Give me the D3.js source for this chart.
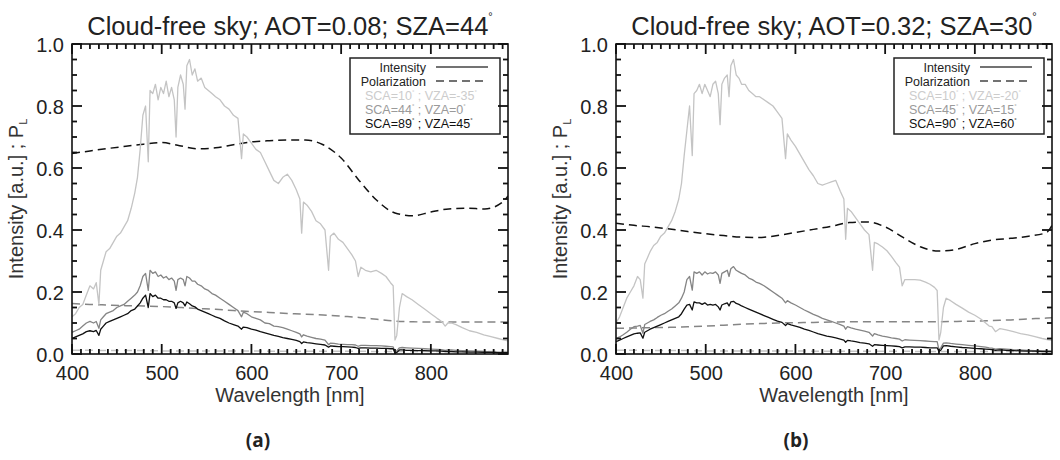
<!DOCTYPE html>
<html><head><meta charset="utf-8">
<script src="https://cdn.jsdelivr.net/npm/d3@7"></script>
<style>body{margin:0;background:#fff;} svg{display:block;font-family:"Liberation Sans",Arial,sans-serif;}</style>
</head><body><svg id="c" width="1060" height="460"></svg>
<script>
// ---------- data ----------
const wavelength = [
 400,404,408,412,416,420,424,427,430,432,
 435,438,442,446,450,454,458,462,466,470,
 473,476,479,482,485,487,490,493,496,499,
 502,505,508,511,514,516,518,521,524,526,
 528,531,534,537,540,544,548,552,556,560,
 565,570,575,580,585,589,591,595,600,605,
 610,615,620,625,630,635,640,645,650,654,
 656,658,662,667,672,677,682,686,688,692,
 697,702,707,712,716,719,722,727,733,739,
 745,750,755,758,760,762,765,768,773,779,
 786,793,800,807,812,816,819,823,828,835,
 843,851,859,867,875,882,886];

// Panel (a): AOT=0.08, SZA=44
const intensityA_sca10 = [
 .12,.13,.15,.16,.19,.22,.21,.23,.16,.27,
 .30,.33,.34,.36,.38,.39,.41,.43,.47,.52,
 .57,.66,.77,.80,.62,.85,.84,.87,.82,.86,
 .84,.88,.83,.86,.82,.70,.86,.90,.87,.79,
 .93,.95,.90,.92,.88,.89,.86,.85,.84,.83,
 .82,.80,.79,.77,.76,.63,.71,.70,.68,.66,
 .65,.62,.59,.56,.55,.57,.58,.56,.53,.50,
 .39,.49,.48,.46,.43,.42,.40,.27,.38,.39,
 .37,.36,.34,.32,.30,.25,.28,.27,.265,.27,
 .26,.25,.23,.22,.045,.06,.15,.195,.185,.175,
 .16,.145,.13,.115,.105,.09,.10,.10,.095,.085,
 .075,.07,.062,.056,.05,.045,.042];
const intensityA_sca44 = [
 .07,.075,.08,.09,.10,.105,.10,.105,.083,.11,
 .12,.13,.135,.14,.15,.155,.16,.17,.18,.19,
 .20,.22,.25,.26,.205,.27,.26,.265,.25,.255,
 .245,.25,.24,.245,.235,.205,.24,.245,.24,.22,
 .25,.245,.235,.235,.225,.22,.21,.205,.195,.19,
 .18,.17,.16,.15,.14,.12,.135,.13,.12,.115,
 .11,.10,.098,.09,.088,.085,.08,.075,.07,.065,
 .055,.062,.058,.054,.05,.048,.045,.03,.035,.034,
 .032,.031,.03,.03,.029,.025,.028,.028,.027,.027,
 .026,.025,.024,.023,.008,.01,.02,.021,.02,.019,
 .018,.017,.016,.015,.014,.012,.013,.013,.012,.011,
 .01,.009,.008,.007,.006,.005,.005];
const intensityA_sca89 = [
 .05,.055,.06,.065,.072,.075,.072,.076,.06,.08,
 .09,.10,.105,.11,.115,.12,.125,.13,.14,.145,
 .155,.165,.18,.19,.15,.195,.185,.19,.18,.18,
 .175,.175,.17,.17,.165,.147,.165,.17,.165,.155,
 .168,.162,.155,.152,.145,.14,.135,.13,.125,.12,
 .115,.107,.10,.095,.09,.08,.087,.085,.08,.077,
 .072,.068,.064,.06,.057,.053,.05,.047,.044,.04,
 .034,.039,.037,.035,.033,.031,.029,.022,.026,.025,
 .024,.024,.023,.022,.021,.018,.02,.02,.019,.019,
 .018,.018,.017,.017,.003,.005,.013,.013,.012,.012,
 .011,.011,.01,.01,.009,.008,.008,.008,.007,.007,
 .006,.006,.005,.005,.004,.004,.004];

// Panel (b): AOT=0.32, SZA=30
const intensityB_sca10 = [
 .10,.12,.15,.18,.20,.22,.25,.24,.18,.29,
 .31,.33,.35,.36,.38,.39,.41,.43,.46,.50,
 .55,.64,.72,.80,.64,.84,.85,.87,.84,.87,
 .85,.83,.87,.88,.84,.74,.87,.89,.90,.83,
 .93,.95,.90,.89,.87,.87,.85,.84,.83,.83,
 .82,.81,.80,.78,.76,.63,.71,.69,.67,.645,
 .62,.595,.575,.55,.545,.55,.555,.56,.525,.50,
 .37,.47,.46,.44,.42,.40,.385,.27,.36,.355,
 .345,.333,.315,.295,.28,.22,.24,.24,.24,.238,
 .232,.225,.215,.205,.045,.07,.15,.18,.172,.16,
 .148,.135,.125,.112,.10,.09,.088,.072,.082,.078,
 .072,.066,.062,.056,.05,.046,.044];
const intensityB_sca45 = [
 .05,.055,.062,.07,.08,.088,.09,.092,.067,.095,
 .10,.105,.11,.118,.125,.13,.138,.145,.155,.165,
 .18,.20,.24,.25,.206,.265,.26,.265,.255,.265,
 .258,.262,.26,.265,.255,.228,.26,.265,.27,.25,
 .275,.282,.27,.265,.26,.255,.245,.24,.232,.228,
 .22,.21,.20,.19,.18,.165,.172,.165,.158,.15,
 .142,.135,.128,.122,.115,.11,.105,.10,.095,.09,
 .08,.088,.084,.08,.077,.074,.07,.058,.066,.062,
 .058,.055,.052,.05,.048,.042,.046,.045,.044,.043,
 .042,.041,.04,.04,.013,.02,.035,.036,.034,.032,
 .03,.028,.026,.024,.022,.02,.019,.016,.017,.016,
 .014,.013,.012,.011,.01,.009,.008];
const intensityB_sca90 = [
 .04,.045,.05,.055,.06,.065,.067,.068,.051,.07,
 .075,.08,.085,.09,.095,.10,.105,.11,.115,.12,
 .13,.145,.158,.16,.142,.168,.165,.165,.16,.165,
 .158,.16,.158,.16,.152,.142,.158,.162,.165,.155,
 .168,.17,.163,.16,.155,.15,.145,.14,.135,.13,
 .124,.118,.112,.106,.102,.092,.098,.094,.09,.086,
 .08,.076,.071,.066,.062,.058,.055,.052,.048,.045,
 .038,.044,.042,.04,.037,.035,.033,.025,.03,.029,
 .028,.027,.026,.025,.024,.02,.023,.023,.022,.022,
 .021,.02,.02,.02,.008,.012,.026,.027,.025,.023,
 .021,.02,.018,.017,.016,.015,.014,.012,.013,.012,
 .011,.01,.009,.009,.008,.008,.008];

const polWavelength = [400,420,440,460,480,500,520,540,560,580,600,620,640,660,680,700,720,740,760,780,800,820,840,860,880,886];
const polA_sca10 = [.012,.012,.011,.011,.011,.01,.01,.01,.01,.01,.01,.009,.009,.009,.009,.009,.009,.008,.008,.008,.008,.008,.008,.008,.008,.008];
const polA_sca44 = [.163,.16,.158,.156,.155,.153,.15,.147,.144,.14,.137,.134,.131,.128,.126,.122,.118,.112,.106,.104,.103,.103,.103,.103,.103,.103];
const polA_sca89 = [.647,.655,.663,.67,.677,.682,.672,.662,.665,.675,.684,.688,.69,.69,.675,.632,.56,.495,.455,.446,.458,.468,.47,.468,.49,.51];
const polB_sca10 = [.012,.012,.011,.011,.011,.01,.01,.01,.01,.01,.01,.009,.009,.009,.009,.009,.009,.008,.008,.008,.008,.008,.008,.008,.008,.008];
const polB_sca45 = [.083,.084,.085,.086,.088,.09,.093,.096,.098,.10,.101,.102,.103,.104,.104,.104,.104,.104,.104,.105,.106,.108,.11,.113,.116,.117];
const polB_sca90 = [.422,.415,.41,.403,.395,.388,.382,.377,.376,.382,.392,.402,.412,.424,.426,.41,.376,.345,.332,.338,.356,.368,.373,.38,.392,.415];

const xTicks = [400,500,600,700,800];
const yTicks = [0,0.2,0.4,0.6,0.8,1.0];
const titlesMain = ["Cloud-free sky; AOT=0.08; SZA=44", "Cloud-free sky; AOT=0.32; SZA=30"];
const panelLabels = ["(a)", "(b)"];
const legendA = [["SCA=10"," ; VZA=-35"],["SCA=44"," ; VZA=0"],["SCA=89"," ; VZA=45"]];
const legendB = [["SCA=10"," ; VZA=-20"],["SCA=45"," ; VZA=15"],["SCA=90"," ; VZA=60"]];

// ---------- drawing ----------
const svg = d3.select("#c");
const W = 436, H = 310, TOP = 44;
const colors = ["#c4c4c4", "#858585", "#111111"];
const legendColors = ["#cccccc", "#9a9a9a", "#111111"];
const x = d3.scaleLinear().domain([400, 886]).range([0, W]);
const y = d3.scaleLinear().domain([0, 1]).range([H, 0]);

const panels = [
  {x0: 72, title: titlesMain[0], label: panelLabels[0], labelX: 258,
   inten: [intensityA_sca10, intensityA_sca44, intensityA_sca89],
   pol: [polA_sca10, polA_sca44, polA_sca89], legend: legendA, id: "a"},
  {x0: 616, title: titlesMain[1], label: panelLabels[1], labelX: 796,
   inten: [intensityB_sca10, intensityB_sca45, intensityB_sca90],
   pol: [polB_sca10, polB_sca45, polB_sca90], legend: legendB, id: "b"}
];

const lineI = d3.line().x(d => x(d[0])).y(d => y(d[1]));
const lineP = d3.line().x(d => x(d[0])).y(d => y(d[1])).curve(d3.curveMonotoneX);
const FONT = "Liberation Sans, Arial, sans-serif";
const minorXTicks = d3.range(400, 887, 10).filter(v => v % 100 !== 0);
const minorYTicks = [0.05,0.1,0.15,0.25,0.3,0.35,0.45,0.5,0.55,0.65,0.7,0.75,0.85,0.9,0.95];

panels.forEach(p => {
  const g = svg.append("g").attr("transform", `translate(${p.x0},${TOP})`);
  g.append("clipPath").attr("id", "clip" + p.id).append("rect").attr("width", W).attr("height", H);
  const plot = g.append("g").attr("clip-path", `url(#clip${p.id})`);

  p.pol.forEach((arr, i) => {
    plot.append("path").datum(polWavelength.map((w, k) => [w, arr[k]]))
      .attr("d", lineP).attr("fill", "none").attr("stroke", colors[i])
      .attr("stroke-width", 1.5).attr("stroke-dasharray", "8,5");
  });
  p.inten.forEach((arr, i) => {
    plot.append("path").datum(wavelength.map((w, k) => [w, arr[k]]))
      .attr("d", lineI).attr("fill", "none").attr("stroke", colors[i])
      .attr("stroke-width", 1.3).attr("stroke-linejoin", "round");
  });

  // tick labels
  const xl = g.append("g").attr("transform", `translate(0,${H})`)
    .call(d3.axisBottom(x).tickValues(xTicks).tickSize(0).tickPadding(0).tickFormat(d3.format("d")));
  xl.select(".domain").remove();
  xl.selectAll("text").attr("font-size", 20).attr("fill", "#222")
    .attr("font-family", FONT).attr("dy", null).attr("y", 26);
  const yl = g.append("g")
    .call(d3.axisLeft(y).tickValues(yTicks).tickSize(0).tickPadding(8).tickFormat(d3.format(".1f")));
  yl.select(".domain").remove();
  yl.selectAll("text").attr("font-size", 20).attr("fill", "#222")
    .attr("font-family", FONT).attr("dy", "0.35em");

  // title
  const t = g.append("text").attr("x", W / 2).attr("y", 35 - TOP).attr("text-anchor", "middle")
    .attr("font-size", 25.5).attr("fill", "#222");
  t.append("tspan").text(p.title);
  t.append("tspan").attr("font-size", 11).attr("dy", -15).text("°");

  // axis titles
  g.append("text").attr("x", W / 2).attr("y", 402 - TOP).attr("text-anchor", "middle")
    .attr("font-size", 20).attr("fill", "#333").text("Wavelength [nm]");
  const ylab = g.append("text").attr("transform", `translate(${(p.id === "a" ? 23 : 567) - p.x0},${H / 2}) rotate(-90)`)
    .attr("text-anchor", "middle").attr("font-size", 20).attr("fill", "#333");
  ylab.append("tspan").text("Intensity [a.u.] ; P");
  ylab.append("tspan").attr("font-size", 11).attr("dy", 4).text("L");

  // panel label
  svg.append("text").attr("x", p.labelX).attr("y", 447).attr("text-anchor", "middle")
    .attr("font-family", "Open Sans, sans-serif").attr("font-weight", "bold")
    .attr("font-size", 19).attr("fill", "#222").text(p.label);

  // legend
  const L = g.append("g").attr("transform", `translate(${W - 158},${58 - TOP})`);
  L.append("rect").attr("width", 150).attr("height", 76).attr("fill", "#fff")
    .attr("stroke", "#222").attr("stroke-width", 1.5);
  const fs = 12.5;
  const rows = [13.5, 27.5, 41.5, 55.5, 69.5];
  L.append("text").attr("x", 76).attr("y", rows[0]).attr("text-anchor", "end")
    .attr("font-size", fs).attr("fill", "#222").text("Intensity");
  L.append("text").attr("x", 76).attr("y", rows[1]).attr("text-anchor", "end")
    .attr("font-size", fs).attr("fill", "#222").text("Polarization");
  L.append("line").attr("x1", 86).attr("x2", 138).attr("y1", rows[0] - 4.5).attr("y2", rows[0] - 4.5)
    .attr("stroke", "#444").attr("stroke-width", 1.5);
  L.append("line").attr("x1", 86).attr("x2", 138).attr("y1", rows[1] - 4.5).attr("y2", rows[1] - 4.5)
    .attr("stroke", "#444").attr("stroke-width", 1.5).attr("stroke-dasharray", "8,5");
  p.legend.forEach((r, i) => {
    const tx = L.append("text").attr("x", 15).attr("y", rows[i + 2]).attr("font-size", fs)
      .attr("fill", legendColors[i]);
    tx.append("tspan").text(r[0]);
    tx.append("tspan").attr("font-size", 6).attr("dy", -6).text("°");
    tx.append("tspan").attr("dy", 6).text(r[1]);
    tx.append("tspan").attr("font-size", 6).attr("dy", -6).text("°");
  });
});

// frames and inward ticks (filled rects) on all four sides, drawn last
panels.forEach(p => {
  const fg = svg.append("g").attr("class", "frame").attr("transform", `translate(${p.x0},${TOP})`);
  const xt = xTicks.map(v => ({v: v, len: 10})).concat(minorXTicks.map(v => ({v: v, len: 5})));
  const ytk = yTicks.map(v => ({v: v, len: 10})).concat(minorYTicks.map(v => ({v: v, len: 5})));
  fg.selectAll("rect.xb").data(xt).enter().append("rect").attr("class", "xb")
    .attr("x", d => x(d.v) - 0.9).attr("y", d => H - d.len).attr("width", 1.8).attr("height", d => d.len)
    .attr("fill", "#111");
  fg.selectAll("rect.xtop").data(xt).enter().append("rect").attr("class", "xtop")
    .attr("x", d => x(d.v) - 0.9).attr("y", 0).attr("width", 1.8).attr("height", d => d.len)
    .attr("fill", "#111");
  fg.selectAll("rect.yl").data(ytk).enter().append("rect").attr("class", "yl")
    .attr("x", 0).attr("y", d => y(d.v) - 0.9).attr("width", d => d.len).attr("height", 1.8)
    .attr("fill", "#111");
  fg.selectAll("rect.yr").data(ytk).enter().append("rect").attr("class", "yr")
    .attr("x", d => W - d.len).attr("y", d => y(d.v) - 0.9).attr("width", d => d.len).attr("height", 1.8)
    .attr("fill", "#111");
  fg.append("rect").attr("class", "border").attr("x", 0).attr("y", 0).attr("width", W).attr("height", H)
    .attr("fill", "none").attr("stroke", "#111").attr("stroke-width", 1.6);
});
</script></body></html>
